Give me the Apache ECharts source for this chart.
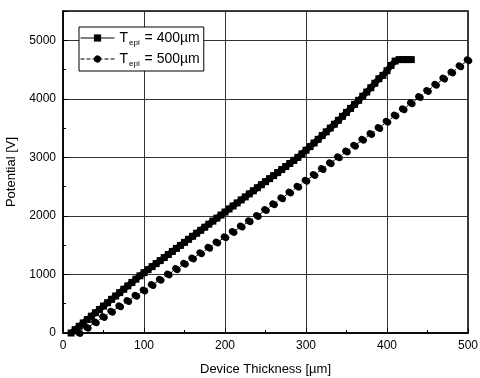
<!DOCTYPE html>
<html>
<head>
<meta charset="utf-8">
<script src="https://cdn.jsdelivr.net/npm/echarts@6/dist/echarts.min.js"></script>
<style>
  html, body { margin: 0; padding: 0; background: #fff; }
  #chart-container { width: 480px; height: 378px; }
</style>
</head>
<body>
<div id="chart-container"></div>
<script>
// Device thickness [um] and potential [V]
var thick400 = [10, 15, 20, 25, 30, 35, 40, 45, 50, 55, 60, 65, 70, 75, 80, 85, 90, 95, 100,
  105, 110, 115, 120, 125, 130, 135, 140, 145, 150, 155, 160, 165, 170, 175, 180, 185, 190, 195, 200,
  205, 210, 215, 220, 225, 230, 235, 240, 245, 250, 255, 260, 265, 270, 275, 280, 285, 290,
  295, 300, 305, 310, 315, 320, 325, 330, 335, 340, 345, 350, 355, 360, 365, 370, 375, 380,
  385, 390, 395, 400, 405, 410, 415, 420, 425, 430];
var pot400 = [0, 57, 115, 172, 230, 287, 345, 402, 460, 517, 575, 632, 690, 747, 805, 862, 920, 977, 1030,
  1082, 1134, 1186, 1237, 1289, 1341, 1393, 1445, 1496, 1548, 1600, 1652, 1704, 1755, 1807, 1859, 1911, 1963, 2015, 2066,
  2118, 2170, 2222, 2274, 2325, 2377, 2429, 2481, 2533, 2585, 2636, 2688, 2740, 2792, 2844, 2896, 2948, 3000,
  3060, 3122, 3184, 3246, 3308, 3372, 3436, 3500, 3566, 3633, 3700, 3768, 3836, 3905, 3974, 4044, 4116, 4190,
  4266, 4343, 4400, 4480, 4570, 4645, 4670, 4670, 4670, 4670];

var thick500 = [20, 30, 40, 50, 60, 70, 80, 90, 100, 110, 120, 130, 140, 150, 160, 170, 180, 190, 200,
  210, 220, 230, 240, 250, 260, 270, 280, 290, 300, 310, 320, 330, 340, 350, 360, 370, 380, 390, 400,
  410, 420, 430, 440, 450, 460, 470, 480, 490, 500];
var pot500 = [0, 91, 182, 273, 364, 455, 545, 636, 727, 818, 909, 1000, 1091, 1182, 1273, 1364, 1455, 1545, 1636,
  1727, 1818, 1909, 2000, 2100, 2200, 2300, 2400, 2500, 2600, 2700, 2800, 2900, 3000, 3100, 3200, 3300, 3400, 3500, 3610,
  3715, 3820, 3925, 4030, 4135, 4240, 4345, 4450, 4555, 4658];

var xTicks = [0, 100, 200, 300, 400, 500];
var yTicks = [0, 1000, 2000, 3000, 4000, 5000];

var names = ['Tepi = 400\u00b5m', 'Tepi = 500\u00b5m'];

function pairs(xs, ys) {
  return xs.map(function (x, i) { return [x, ys[i]]; });
}

var chartDom = document.getElementById('chart-container');
var myChart = echarts.init(chartDom);
var font = 'Liberation Sans';

var option = {
  animation: false,
  grid: {
    left: 63, right: 12, top: 11, bottom: 45,
    show: true, borderColor: '#000', borderWidth: 1.5,
    outerBoundsMode: 'none'
  },
  legend: {
    orient: 'vertical',
    left: 79, top: 27,
    padding: [4, 4, 3, 1],
    itemGap: 5,
    itemWidth: 34, itemHeight: 9,
    borderColor: '#000', borderWidth: 1,
    backgroundColor: '#fff',
    data: [
      { name: names[0], lineStyle: { width: 1, type: 'solid' } },
      { name: names[1], lineStyle: { width: 1, type: 'dashed' } }
    ],
    formatter: function (n) {
      return n === names[0] ? '{t|T}{s|epi}{t| = 400\u00b5m}' : '{t|T}{s|epi}{t| = 500\u00b5m}';
    },
    textStyle: {
      rich: {
        t: { fontFamily: font, fontSize: 14, color: '#000', lineHeight: 18, verticalAlign: 'middle' },
        s: { fontFamily: font, fontSize: 8, color: '#000', verticalAlign: 'bottom', padding: [0, 1, 0, 1] }
      }
    }
  },
  xAxis: {
    type: 'value', min: 0, max: 500, interval: 100,
    name: 'Device Thickness [\u00b5m]', nameLocation: 'middle', nameGap: 30,
    nameTextStyle: { fontFamily: font, fontSize: 13, color: '#000' },
    axisLine: { onZero: false, lineStyle: { color: '#000', width: 1.5 } },
    axisTick: { inside: true, length: 5, lineStyle: { color: '#000' } },
    minorTick: { show: true, splitNumber: 2, length: 3, lineStyle: { color: '#000' } },
    axisLabel: {
      margin: 7, fontFamily: font, fontSize: 12, color: '#000',
      formatter: function (v) { return xTicks.indexOf(v) >= 0 ? String(v) : ''; }
    },
    splitLine: { show: true, lineStyle: { color: '#333', width: 1 } }
  },
  yAxis: {
    type: 'value', min: 0, max: 5500, interval: 1000,
    name: 'Potential [V]', nameLocation: 'middle', nameGap: 42,
    nameTextStyle: { fontFamily: font, fontSize: 13, color: '#000' },
    axisLine: { onZero: false, lineStyle: { color: '#000', width: 1.5 } },
    axisTick: { inside: true, length: 5, lineStyle: { color: '#000' } },
    minorTick: { show: true, splitNumber: 2, length: 3, lineStyle: { color: '#000' } },
    axisLabel: {
      margin: 7, fontFamily: font, fontSize: 12, color: '#000', showMaxLabel: false,
      formatter: function (v) { return yTicks.indexOf(v) >= 0 ? String(v) : ''; }
    },
    splitLine: { show: true, lineStyle: { color: '#333', width: 1 } }
  },
  series: [
    {
      name: names[0], type: 'line', data: pairs(thick400, pot400),
      symbol: 'rect', symbolSize: 7, showAllSymbol: true,
      itemStyle: { color: '#000' },
      lineStyle: { color: '#000', width: 6 }
    },
    {
      name: names[1], type: 'line', data: pairs(thick500, pot500),
      symbol: 'circle', symbolSize: [9, 7], symbolRotate: -31, showAllSymbol: true,
      itemStyle: { color: '#000' },
      lineStyle: { color: '#000', width: 1, type: 'dashed' }
    }
  ]
};

option && myChart.setOption(option);
</script>
</body>
</html>
